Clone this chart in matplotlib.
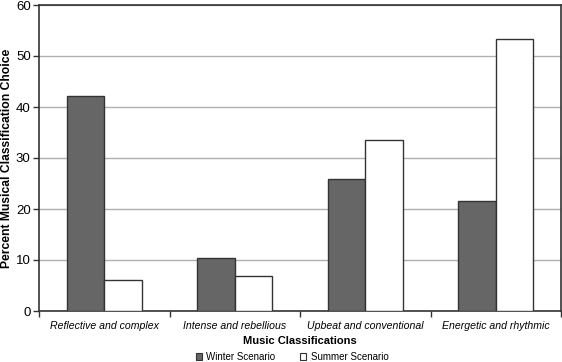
import matplotlib
matplotlib.use("Agg")
import matplotlib.pyplot as plt
import numpy as np
from matplotlib.patches import Patch

categories = ["Reflective and complex", "Intense and rebellious",
              "Upbeat and conventional", "Energetic and rhythmic"]
winter = [42.2, 10.3, 25.8, 21.5]
summer = [6.0, 6.9, 33.6, 53.4]
series_names = ["Winter Scenario", "Summer Scenario"]

plt.rcParams['font.family'] = ['Liberation Sans', 'DejaVu Sans']

fig = plt.figure(figsize=(5.62, 3.62), dpi=100)
ax = fig.add_axes([39 / 562, 1 - 311 / 362, 522 / 562, 306 / 362])

x = np.arange(len(categories))
w = 0.286
ax.bar(x - w / 2, winter, w, color="#666666", edgecolor="#333333", linewidth=1, zorder=3)
ax.bar(x + w / 2, summer, w, color="white", edgecolor="#333333", linewidth=1, zorder=3)

ax.set_xlim(-0.5, len(categories) - 0.5)
ax.set_ylim(0, 60)
ax.set_yticks(range(0, 61, 10))
ax.yaxis.grid(True, color="#b0b0b0", linewidth=1, zorder=0)
ax.set_xticks(x)
ax.set_xticklabels(categories, fontstyle="italic", fontsize=7.6)
ax.tick_params(axis="x", length=0, pad=7)
ax.set_xticks(np.arange(-0.5, len(categories)), minor=True)
ax.tick_params(axis="x", which="minor", length=4, width=1, color="#333333")
ax.tick_params(axis="y", labelsize=9.5, length=4, width=1, color="#333333", pad=2)
for s in ax.spines.values():
    s.set_color("#333333")
    s.set_linewidth(1.2)

fig.text(300 / 562, 1 - 341 / 362, "Music Classifications", fontsize=8.0,
         fontweight="bold", ha="center", va="center")
fig.text(7 / 562, 1 - 158 / 362, "Percent Musical Classification Choice", fontsize=8.7,
         fontweight="bold", ha="center", va="center", rotation=90)

handles = [Patch(facecolor="#666666", edgecolor="#333333", linewidth=0.8),
           Patch(facecolor="white", edgecolor="#333333", linewidth=0.8)]
fig.legend(handles, series_names, loc="center", bbox_to_anchor=(292 / 562, 1 - 357 / 362),
           ncol=2, frameon=False, fontsize=7, handlelength=0.6, handleheight=0.6,
           handletextpad=0.5, columnspacing=2.5, borderpad=0)

fig.savefig("out.png", dpi=100)
